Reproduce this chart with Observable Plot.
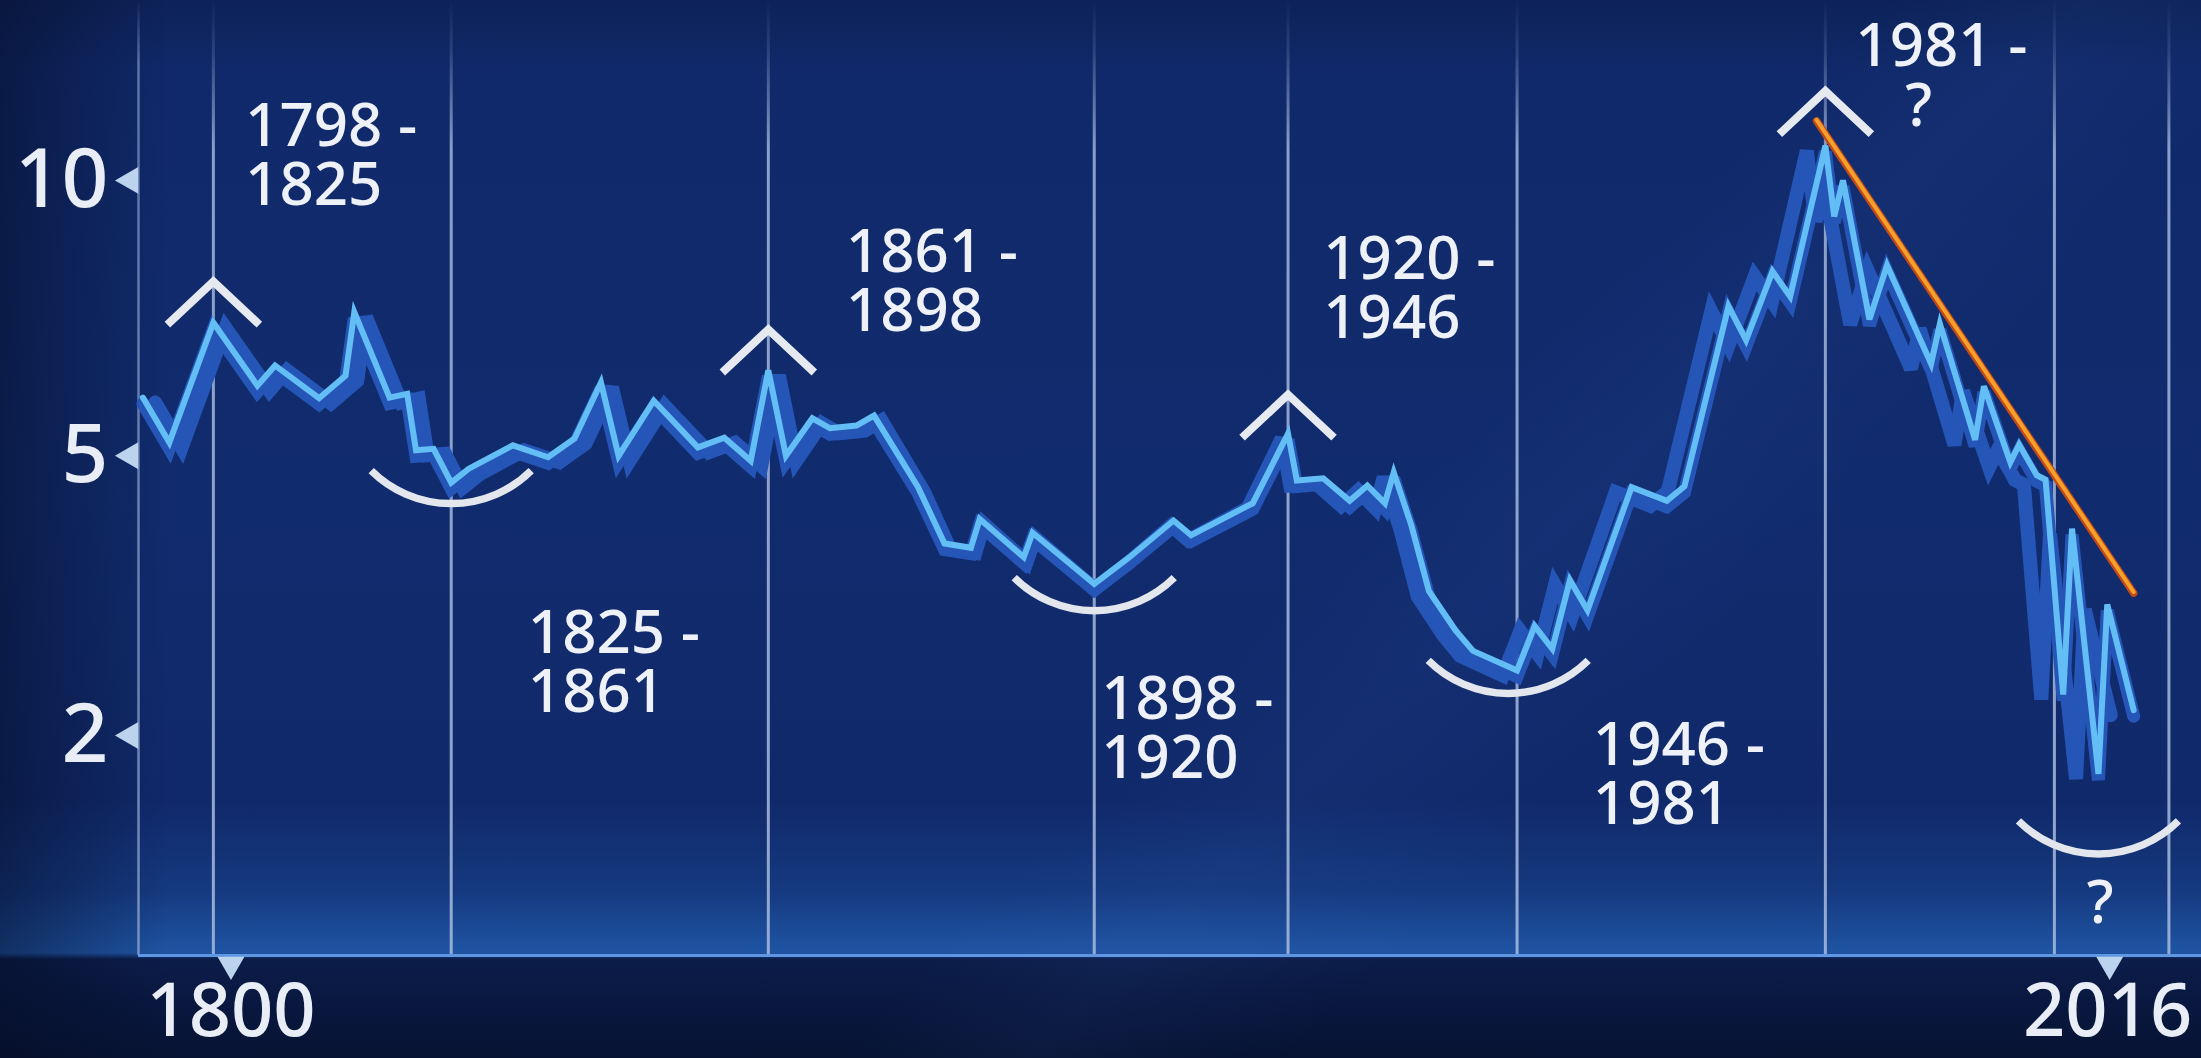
<!DOCTYPE html>
<html>
<head>
<meta charset="utf-8">
<script src="https://cdn.jsdelivr.net/npm/d3@7"></script>
<script src="https://cdn.jsdelivr.net/npm/@observablehq/plot@0.6"></script>
<style>
html, body { margin: 0; padding: 0; background: #0b1d4c; }
#chart {
  position: relative; width: 2201px; height: 1058px; overflow: hidden;
  background:
    linear-gradient(135deg, rgba(0,0,0,0) 58%, rgba(60,100,180,0.08) 64%, rgba(0,0,0,0) 72%),
    linear-gradient(to right, rgba(4,12,36,0.5) 0px, rgba(4,12,36,0) 170px),
    linear-gradient(to bottom, #0d2258 0px, #10296a 70px, #112c6e 500px, #10296a 800px, #15397f 890px, #1f55a4 953px, #0c1d4a 959px, #091840 1000px, #071333 1058px);
}
#chart svg.plot { position: absolute; left: 0; top: 0; }
g[aria-label="shadow"] { filter: blur(10px); }
g[aria-label="glow"] { filter: blur(4px); }
g[aria-label="annotation"], g[aria-label="ticklabel"] { filter: drop-shadow(2px 3px 3px rgba(0,0,0,0.55)); }
g[aria-label="marker"] { filter: drop-shadow(2px 5px 4px rgba(0,0,0,0.6)); }
</style>
</head>
<body>
<svg width="0" height="0" style="position:absolute">
  <defs>
    <linearGradient id="ruleGrad" gradientUnits="userSpaceOnUse" x1="0" y1="0" x2="0" y2="1058">
      <stop offset="0" stop-color="#9fb2d6" stop-opacity="0"/>
      <stop offset="0.05" stop-color="#9fb2d6" stop-opacity="0.2"/>
      <stop offset="0.14" stop-color="#a9bcdf" stop-opacity="0.8"/>
      <stop offset="1" stop-color="#a9bcdf" stop-opacity="0.85"/>
    </linearGradient>
    <linearGradient id="axisGrad" gradientUnits="userSpaceOnUse" x1="0" y1="0" x2="0" y2="1058">
      <stop offset="0" stop-color="#8fa6d2" stop-opacity="0"/>
      <stop offset="0.06" stop-color="#8fa6d2" stop-opacity="0.6"/>
      <stop offset="1" stop-color="#8fa6d2" stop-opacity="0.8"/>
    </linearGradient>
  </defs>
</svg>
<div id="chart"></div>
<script>
// ---- data ----
const years = [1790, 1793, 1798, 1803, 1805, 1810, 1813, 1814, 1818, 1820, 1821, 1823, 1825, 1827, 1832, 1836, 1839, 1842, 1844, 1848, 1853, 1856, 1859, 1861, 1863, 1866, 1868, 1871, 1873, 1878, 1881, 1884, 1885, 1890, 1891, 1898, 1902, 1907, 1909, 1916, 1920, 1921, 1924, 1927, 1929, 1931, 1932, 1934, 1936, 1939, 1941, 1946, 1948, 1950, 1952, 1954, 1959, 1963, 1965, 1970, 1972, 1975, 1977, 1981, 1982, 1983, 1986, 1988, 1993, 1994, 1998, 1999, 2002, 2003, 2005, 2006, 2008, 2009, 2012, 2013, 2016];
const values = [5.87, 5.19, 7.13, 6.06, 6.39, 5.86, 6.22, 7.32, 5.87, 5.93, 5.08, 5.10, 4.63, 4.82, 5.15, 4.98, 5.25, 6.11, 5.00, 5.82, 5.12, 5.26, 4.93, 6.31, 5.00, 5.55, 5.40, 5.44, 5.59, 4.57, 3.86, 3.81, 4.16, 3.70, 3.99, 3.40, 3.70, 4.14, 3.96, 4.36, 5.32, 4.66, 4.69, 4.39, 4.59, 4.36, 4.77, 4.08, 3.32, 2.92, 2.72, 2.54, 2.96, 2.74, 3.44, 3.12, 4.57, 4.39, 4.58, 7.43, 6.82, 8.09, 7.61, 10.80, 9.21, 10.0, 7.19, 8.21, 6.42, 7.11, 5.23, 6.05, 4.91, 5.16, 4.73, 4.67, 2.33, 4.04, 1.72, 3.18, 2.20];

const ruleYears = [1798, 1825, 1861, 1898, 1920, 1946, 1981, 2007, 2020];

const peakYears = [1798, 1861, 1920, 1981];
const peakMarkerValues = [7.97, 7.08, 5.98, 12.25];
const troughYears = [1825, 1898, 1945, 2012];
const troughMarkerValues = [4.31, 3.08, 2.31, 1.205];

const periodLabels = ["1798 -\n1825", "1825 -\n1861", "1861 -\n1898", "1898 -\n1920", "1920 -\n1946", "1946 -\n1981", "1981 -"];
const periodLabelYears = [1801.6, 1833.7, 1869.8, 1898.8, 1924.0, 1954.6, 1984.4];
const periodLabelValues = [11.81, 3.107, 8.92, 2.477, 8.77, 2.093, 13.95];
const questionLabels = ["?", "?"];
const questionYears = [1991.6, 2012.2];
const questionValues = [12.35, 1.083];

const trendYears = [1980, 2016];
const trendValues = [11.4, 3.3];

const yTicks = [2, 5, 10];
const xTicks = [1800, 2016];

const xDomain = [1789.5, 2023.7];
const yDomain = [0.746, 14.62];

// ---- tables built from the arrays ----
const data = years.map((year, i) => ({year, value: values[i]}));
const segs = d3.pairs(data).flatMap(([a, b], i) => [{...a, seg: i}, {...b, seg: i}]);
const trend = trendYears.map((year, i) => ({year, value: trendValues[i]}));
const peaks = peakYears.map((year, i) => ({year, value: peakMarkerValues[i]}));
const troughs = troughYears.map((year, i) => ({year, value: troughMarkerValues[i]}));
const periods = periodLabels.map((text, i) => ({text, year: periodLabelYears[i], value: periodLabelValues[i]}));
const questions = questionLabels.map((text, i) => ({text, year: questionYears[i], value: questionValues[i]}));

// depth of the 3D ribbon (visual extrusion, in years along x)
const depth = d3.scaleLinear([1790, 1862, 1900, 1945, 2016], [1.4, 1.2, 0, -1.6, -2.6]);

const chevron = {draw(ctx) { ctx.moveTo(-46, 47); ctx.lineTo(0, 4); ctx.lineTo(46, 47); }};
const R = 113.5, cy = -117, a0 = Math.acos(80 / R);
const smile = {draw(ctx) { ctx.moveTo(R * Math.cos(a0), cy + R * Math.sin(a0)); ctx.arc(0, cy, R, a0, Math.PI - a0); }};

const ribbon = "#2556b7";
const labelColor = "#eef2f8";

const chart = Plot.plot({
  width: 2201, height: 1058,
  marginLeft: 138, marginRight: 0, marginTop: 0, marginBottom: 103,
  x: {domain: xDomain, axis: null},
  y: {type: "pow", exponent: 0.33, domain: yDomain, axis: null},
  style: {background: "transparent", fontFamily: "Noto Sans", overflow: "visible"},
  marks: [
    Plot.ruleX(ruleYears, {stroke: "url(#ruleGrad)", strokeWidth: 3}),
    Plot.ruleX([xDomain[0]], {stroke: "url(#axisGrad)", strokeWidth: 2.5}),
    // drop shadow
    Plot.line(data, {x: d => d.year + depth(d.year), y: "value", stroke: "#01060f", strokeWidth: 26, strokeOpacity: 0.75, dy: 28, ariaLabel: "shadow"}),
    // 3D ribbon
    Plot.area(segs, {x1: "year", x2: d => d.year + depth(d.year), y1: "value", y2: "value", z: "seg", fill: ribbon, ariaLabel: "ribbon"}),
    Plot.line(data, {x: d => d.year + depth(d.year), y: "value", stroke: ribbon, strokeWidth: 14, dy: 5, strokeLinejoin: "miter", strokeMiterlimit: 3}),
    Plot.line(data, {x: "year", y: "value", stroke: ribbon, strokeWidth: 13, dy: 6, strokeLinejoin: "miter", strokeMiterlimit: 3}),
    // light line
    Plot.line(data, {x: "year", y: "value", stroke: "#6fc8ff", strokeWidth: 11, strokeOpacity: 0.3, ariaLabel: "glow"}),
    Plot.line(data, {x: "year", y: "value", stroke: "#63bef5", strokeWidth: 6, strokeLinejoin: "miter", strokeMiterlimit: 4}),
    // trend line
    Plot.line(trend, {x: "year", y: "value", stroke: "#c24a1a", strokeWidth: 7.5}),
    Plot.line(trend, {x: "year", y: "value", stroke: "#f5a02a", strokeWidth: 4, dy: -1}),
    // bottom axis line
    Plot.ruleY([yDomain[0]], {stroke: "#5f97e2", strokeWidth: 3}),
    // peak / trough markers
    Plot.dot(peaks, {x: "year", y: "value", symbol: chevron, fill: "none", stroke: "#e6e9ef", strokeWidth: 8, strokeLinejoin: "miter", ariaLabel: "marker"}),
    Plot.dot(troughs, {x: "year", y: "value", symbol: smile, fill: "none", stroke: "#e3e6ec", strokeWidth: 7.5, ariaLabel: "marker"}),
    // annotations
    Plot.text(periods, {x: "year", y: "value", text: "text", textAnchor: "start", lineAnchor: "top", fontSize: 60, fontWeight: 500, lineHeight: 0.98, fill: labelColor, ariaLabel: "annotation"}),
    Plot.text(questions, {x: "year", y: "value", text: "text", textAnchor: "middle", lineAnchor: "top", fontSize: 60, fontWeight: 500, fill: labelColor, ariaLabel: "annotation"}),
    // y ticks
    Plot.dot(yTicks, {y: d => d, frameAnchor: "left", symbol: "triangle", rotate: -90, r: 10, fill: "#bcd3ee", dx: -8}),
    Plot.text(yTicks, {y: d => d, text: d => String(d), frameAnchor: "left", textAnchor: "end", dx: -30, fontSize: 82, fontWeight: 500, fill: "#e9eef6", ariaLabel: "ticklabel"}),
    // x ticks
    Plot.dot([xTicks[0]], {x: d => d, frameAnchor: "bottom", symbol: "triangle", rotate: 180, r: 10, fill: "#bcd3ee", dy: 9}),
    Plot.dot([xTicks[1]], {x: d => d, frameAnchor: "bottom", symbol: "triangle", rotate: 180, r: 10, fill: "#bcd3ee", dy: 9, dx: -24}),
    Plot.text([xTicks[0]], {x: d => d, text: d => String(d), frameAnchor: "bottom", lineAnchor: "top", dy: 28, fontSize: 74, fontWeight: 500, fill: "#e9eef6", ariaLabel: "ticklabel"}),
    Plot.text([xTicks[1]], {x: d => d, text: d => String(d), frameAnchor: "bottom", lineAnchor: "top", dy: 28, dx: -26, fontSize: 74, fontWeight: 500, fill: "#e9eef6", ariaLabel: "ticklabel"})
  ]
});
chart.classList.add("plot");
document.getElementById("chart").appendChild(chart);
</script>
</body>
</html>
